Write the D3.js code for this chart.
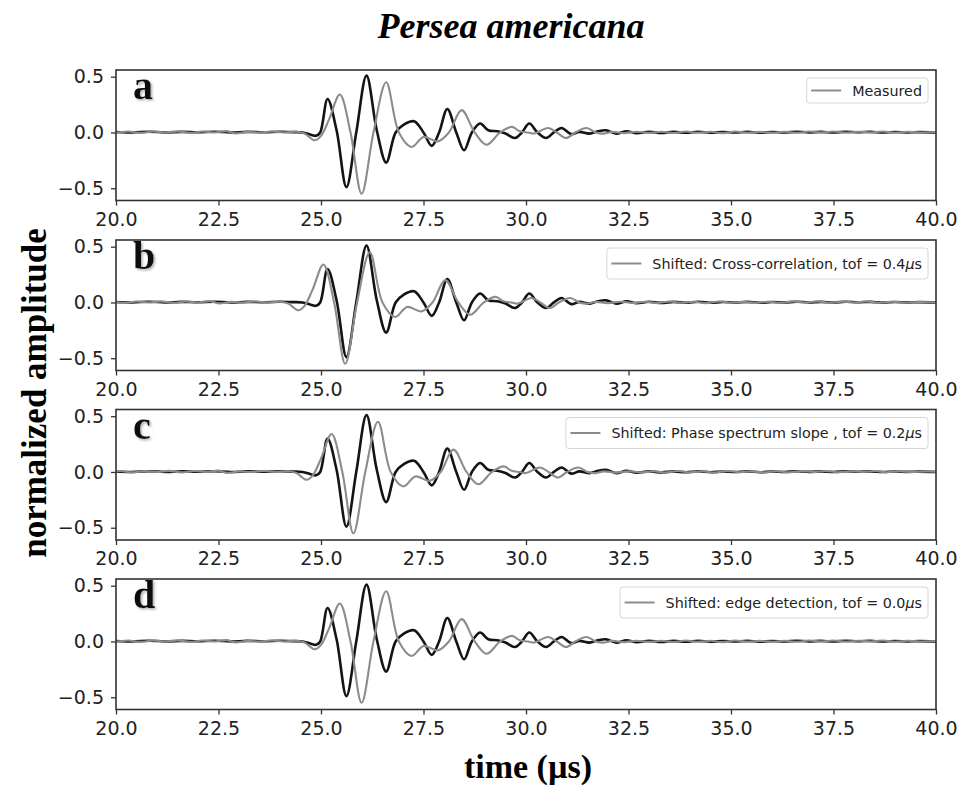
<!DOCTYPE html>
<html>
<head>
<meta charset="utf-8">
<script src="https://cdn.jsdelivr.net/npm/d3@7"></script>
<style>
  html, body { margin: 0; padding: 0; background: #fff; }
  svg { display: block; }
</style>
</head>
<body>
<svg id="chart" width="958" height="786"></svg>
<script>
// ---- data -------------------------------------------------------------
const xTicks = [20.0, 22.5, 25.0, 27.5, 30.0, 32.5, 35.0, 37.5, 40.0];
const yTicks = [-0.5, 0.0, 0.5];
const panelLetters = ["a", "b", "c", "d"];
const legendPrefixes = [
  "Measured",
  "Shifted: Cross-correlation, tof = ",
  "Shifted: Phase spectrum slope , tof = ",
  "Shifted: edge detection, tof = "
];
// time of flight (µs) applied to the measured trace in each panel (panel a is unshifted)
const tofValues = [null, 0.4, 0.2, 0.0];

// reference pulse (black)
const refTime = [20.0, 20.4, 20.8, 21.2, 21.6, 22.0, 22.4, 22.8, 23.2, 23.6, 24.0, 24.3, 24.55, 24.75, 24.88,
  24.98, 25.16, 25.38, 25.62, 25.86, 26.11, 26.36, 26.59, 26.82, 27.02, 27.27, 27.5, 27.7, 27.88, 28.08,
  28.3, 28.49, 28.68, 28.88, 29.08, 29.3, 29.5, 29.73, 29.9, 30.08, 30.28, 30.49, 30.68, 30.87, 31.1,
  31.3, 31.55, 31.75, 31.95, 32.2, 32.45, 32.7, 33.0, 33.3, 33.6, 33.9, 34.2, 34.5, 34.8, 35.1, 35.4,
  35.7, 36.0, 36.3, 36.6, 36.9, 37.2, 37.5, 37.8, 38.1, 38.4, 38.7, 39.0, 39.3, 39.6, 40.0];
const refAmp = [0.004, 0.0, 0.007, 0.0, 0.005, 0.002, 0.007, 0.0, 0.005, 0.002, 0.006, 0.003, 0.0, -0.02, -0.03,
  0.0, 0.30, 0.02, -0.49, 0.0, 0.51, 0.02, -0.27, 0.0, 0.07, 0.10, 0.0, -0.12, 0.0, 0.21,
  0.0, -0.16, 0.0, 0.08, 0.02, 0.01, -0.01, -0.05, 0.0, 0.08, 0.0, -0.05, 0.0, 0.04, -0.015,
  0.005, -0.01, 0.01, 0.02, -0.01, 0.01, -0.006, 0.006, -0.004, 0.005, -0.003, 0.006, -0.002, 0.004, 0.0, 0.005,
  -0.002, 0.004, 0.0, 0.006, 0.001, 0.005, 0.0, 0.006, 0.002, 0.005, 0.0, 0.004, 0.001, 0.003, 0.0];

// measured pulse (grey)
const measTime = [19.0, 19.5, 20.0, 20.3, 20.6, 20.9, 21.2, 21.5, 21.8, 22.1, 22.4, 22.7, 22.9, 23.2, 23.5, 23.8,
  24.1, 24.4, 24.6, 24.85, 25.0, 25.2, 25.46, 25.72, 25.99, 26.28, 26.59, 26.9, 27.21, 27.5, 27.85,
  28.12, 28.43, 28.75, 29.04, 29.37, 29.66, 29.85, 30.05, 30.2, 30.54, 30.75, 30.98, 31.2, 31.48, 31.7,
  31.9, 32.1, 32.4, 32.7, 33.0, 33.3, 33.6, 33.9, 34.2, 34.5, 34.8, 35.1, 35.4, 35.7, 36.0, 36.3,
  36.6, 36.9, 37.2, 37.5, 37.8, 38.1, 38.4, 38.7, 39.0, 39.3, 39.6, 40.0, 40.5];
const measAmp = [0.0, 0.006, 0.0, 0.009, -0.004, 0.008, 0.0, 0.01, -0.004, 0.008, 0.0, 0.012, -0.008, 0.005, 0.0, 0.008,
  0.0, 0.006, -0.01, -0.07, -0.03, 0.12, 0.34, 0.0, -0.55, 0.0, 0.45, 0.0, -0.13, -0.04, -0.08,
  0.0, 0.20, 0.0, -0.11, 0.0, 0.05, 0.01, 0.0, -0.01, 0.04, 0.0, -0.05, 0.0, 0.04, 0.0,
  -0.01, 0.005, -0.006, 0.007, -0.004, 0.006, -0.005, 0.008, -0.003, 0.006, -0.006, 0.009, -0.002, 0.005, -0.004, 0.007,
  -0.003, 0.008, 0.0, 0.009, -0.002, 0.007, 0.0, 0.008, -0.002, 0.006, 0.0, 0.004, 0.0];

// ---- layout -----------------------------------------------------------
const svg = d3.select("#chart");
const plotLeft = 116, plotRight = 936;
const panelTops = [70, 240, 409.5, 579];
const panelH = 130.5;
const legendHeights = [25, 31, 31, 31];
const tickFont = "'DejaVu Sans', sans-serif";
const serif = "'Liberation Serif', 'Times New Roman', serif";

const x = d3.scaleLinear().domain([20, 40]).range([plotLeft, plotRight]);

const refPts = refTime.map((t, i) => [t, refAmp[i]]);
const measPts = measTime.map((t, i) => [t, measAmp[i]]);

// soft shadow behind the panel letters
const defs = svg.append("defs");
defs.append("filter").attr("id", "letterShadow")
  .attr("x", "-30%").attr("y", "-30%").attr("width", "160%").attr("height", "160%")
  .append("feDropShadow")
  .attr("dx", 1.5).attr("dy", 1.5).attr("stdDeviation", 1.2)
  .attr("flood-color", "#888").attr("flood-opacity", 0.7);

// title
svg.append("text")
  .attr("x", 511).attr("y", 38)
  .attr("text-anchor", "middle")
  .attr("font-family", serif)
  .attr("font-weight", "bold").attr("font-style", "italic")
  .attr("font-size", 36)
  .text("Persea americana");

// shared axis titles
svg.append("text")
  .attr("transform", "translate(46,393) rotate(-90)")
  .attr("text-anchor", "middle")
  .attr("font-family", serif).attr("font-weight", "bold")
  .attr("font-size", 35)
  .text("normalized amplitude");

svg.append("text")
  .attr("x", 528).attr("y", 778)
  .attr("text-anchor", "middle")
  .attr("font-family", serif).attr("font-weight", "bold")
  .attr("font-size", 34)
  .text("time (µs)");

panelTops.forEach((top, p) => {
  const y = d3.scaleLinear().domain([-0.61, 0.56]).range([top + panelH, top]);
  const g = svg.append("g");
  const clipId = "clip" + p;
  g.append("clipPath").attr("id", clipId)
    .append("rect").attr("x", plotLeft).attr("y", top)
    .attr("width", plotRight - plotLeft).attr("height", panelH);

  const line = d3.line()
    .x(d => x(d[0])).y(d => y(d[1]))
    .curve(d3.curveCatmullRom.alpha(0.5));

  const shift = tofValues[p] === null ? 0 : tofValues[p];
  const greyPts = measPts.map(d => [d[0] - shift, d[1]]);

  const traces = g.append("g").attr("clip-path", `url(#${clipId})`);
  traces.append("path").datum(refPts)
    .attr("d", line).attr("fill", "none")
    .attr("stroke", "#141414").attr("stroke-width", 2.6)
    .attr("stroke-linejoin", "round");
  traces.append("path").datum(greyPts)
    .attr("d", line).attr("fill", "none")
    .attr("stroke", "#8c8c8c").attr("stroke-width", 2.1)
    .attr("stroke-linejoin", "round");

  // axes
  const xAxis = g.append("g")
    .attr("transform", `translate(0,${top + panelH})`)
    .call(d3.axisBottom(x).tickValues(xTicks).tickFormat(d3.format(".1f"))
      .tickSize(5).tickPadding(7));
  const yAxis = g.append("g")
    .attr("transform", `translate(${plotLeft},0)`)
    .call(d3.axisLeft(y).tickValues(yTicks).tickFormat(d => d3.format(".1f")(d).replace("-", "\u2212"))
      .tickSize(5).tickPadding(7));
  [xAxis, yAxis].forEach(a => {
    a.select(".domain").remove();
    a.selectAll(".tick line").attr("stroke", "#333").attr("stroke-width", 1.3);
    a.selectAll(".tick text").attr("font-family", tickFont).attr("font-size", 19).attr("fill", "#222");
  });

  // frame
  g.append("rect")
    .attr("x", plotLeft).attr("y", top)
    .attr("width", plotRight - plotLeft).attr("height", panelH)
    .attr("fill", "none").attr("stroke", "#333").attr("stroke-width", 1.6);

  // panel letter
  g.append("text")
    .attr("x", 133).attr("y", top + 29)
    .attr("font-family", serif).attr("font-weight", "bold").attr("font-size", 40)
    .attr("fill", "#111")
    .attr("filter", "url(#letterShadow)")
    .text(panelLetters[p]);

  // legend
  const lg = g.append("g");
  const lh = legendHeights[p];
  const boxRight = plotRight - 8;
  const boxTop = top + 8;
  const txt = lg.append("text")
    .attr("font-family", tickFont).attr("font-size", 14.3).attr("fill", "#222")
    .attr("y", boxTop + lh / 2 + 5);
  txt.append("tspan").text(legendPrefixes[p]);
  if (tofValues[p] !== null) {
    txt.append("tspan").text(tofValues[p].toFixed(1));
    txt.append("tspan").attr("font-style", "italic").text("\u03bc");
    txt.append("tspan").text("s");
  }
  const tw = txt.node().getComputedTextLength();
  const textX = boxRight - 6 - tw;
  txt.attr("x", textX);
  const lineX1 = textX - 11 - 30;
  const boxLeft = lineX1 - 4.5;
  lg.insert("rect", "text")
    .attr("x", boxLeft).attr("y", boxTop)
    .attr("width", boxRight - boxLeft).attr("height", lh)
    .attr("rx", 3).attr("fill", "#fff").attr("fill-opacity", 0.85)
    .attr("stroke", "#d6d6d6").attr("stroke-width", 1);
  lg.append("line")
    .attr("x1", lineX1).attr("x2", lineX1 + 30)
    .attr("y1", boxTop + lh / 2).attr("y2", boxTop + lh / 2)
    .attr("stroke", "#8c8c8c").attr("stroke-width", 2);
});
</script>
</body>
</html>
